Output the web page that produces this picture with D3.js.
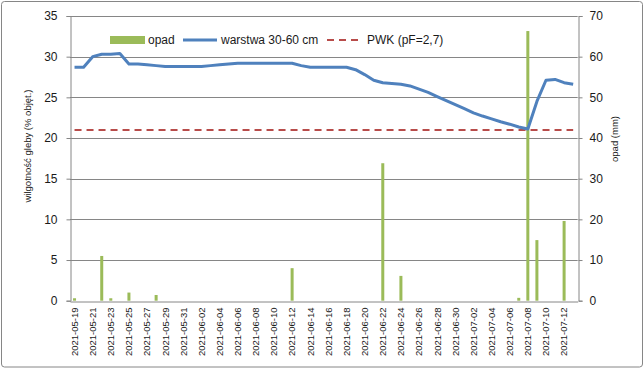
<!DOCTYPE html>
<html>
<head>
<meta charset="utf-8">
<script src="https://cdn.jsdelivr.net/npm/d3@7"></script>
<style>
  html, body { margin: 0; padding: 0; background: #fff; }
  svg { display: block; }
  text { font-family: "Liberation Sans", Arial, sans-serif; fill: #1a1a1a; }
</style>
</head>
<body>
<svg id="chart" width="644" height="369"></svg>
<script>
const dates = [
  "2021-05-19","2021-05-20","2021-05-21","2021-05-22","2021-05-23","2021-05-24","2021-05-25","2021-05-26",
  "2021-05-27","2021-05-28","2021-05-29","2021-05-30","2021-05-31","2021-06-01","2021-06-02","2021-06-03",
  "2021-06-04","2021-06-05","2021-06-06","2021-06-07","2021-06-08","2021-06-09","2021-06-10","2021-06-11",
  "2021-06-12","2021-06-13","2021-06-14","2021-06-15","2021-06-16","2021-06-17","2021-06-18","2021-06-19",
  "2021-06-20","2021-06-21","2021-06-22","2021-06-23","2021-06-24","2021-06-25","2021-06-26","2021-06-27",
  "2021-06-28","2021-06-29","2021-06-30","2021-07-01","2021-07-02","2021-07-03","2021-07-04","2021-07-05",
  "2021-07-06","2021-07-07","2021-07-08","2021-07-09","2021-07-10","2021-07-11","2021-07-12","2021-07-13"
];
// opad (mm) — right axis
const opad = [
  0.6, 0, 0, 11, 0.6, 0, 2, 0,
  0, 1.4, 0, 0, 0, 0, 0, 0,
  0, 0, 0, 0, 0, 0, 0, 0,
  8, 0, 0, 0, 0, 0, 0, 0,
  0, 0, 33.8, 0, 6.1, 0, 0, 0,
  0, 0, 0, 0, 0, 0, 0, 0,
  0, 0.7, 66.3, 14.9, 0, 0, 19.6, 0
];
// warstwa 30-60 cm (% obj.) — left axis
const warstwa = [
  28.7, 28.7, 30.0, 30.3, 30.3, 30.4, 29.1, 29.1,
  29.0, 28.9, 28.8, 28.8, 28.8, 28.8, 28.8, 28.9,
  29.0, 29.1, 29.2, 29.2, 29.2, 29.2, 29.2, 29.2,
  29.2, 28.9, 28.7, 28.7, 28.7, 28.7, 28.7, 28.4,
  27.8, 27.1, 26.8, 26.7, 26.6, 26.4, 26.0, 25.6,
  25.1, 24.6, 24.1, 23.6, 23.1, 22.7, 22.35, 22.0,
  21.7, 21.35, 21.1, 24.5, 27.1, 27.2, 26.8, 26.6
];
const pwkValue = 21;
const leftTicks = [0, 5, 10, 15, 20, 25, 30, 35];
const rightTicks = [0, 10, 20, 30, 40, 50, 60, 70];
const seriesNames = ["opad", "warstwa 30-60 cm", "PWK (pF=2,7)"];
const colors = { opad: "#9BBB59", line: "#4F81BD", pwk: "#B84C4A", grid: "#868686" };

const svg = d3.select("#chart");
const W = 644, H = 369;
const m = { left: 70, right: 577.7, top: 16, bottom: 300.7 };

// outer border
svg.append("rect").attr("x", 1.5).attr("y", 1.5).attr("width", W - 3).attr("height", H - 3.5)
  .attr("rx", 3).attr("fill", "#fff").attr("stroke", "#868686").attr("stroke-width", 1);

const x = d3.scaleBand().domain(dates).range([m.left, m.right]).padding(0);
const yL = d3.scaleLinear().domain([0, 35]).range([m.bottom, m.top]);
const yR = d3.scaleLinear().domain([0, 70]).range([m.bottom, m.top]);
const cx = d => x(d) + x.bandwidth() / 2;

// gridlines
svg.append("g").selectAll("line").data(leftTicks.filter(t => t > 0)).join("line")
  .attr("x1", m.left).attr("x2", m.right)
  .attr("y1", d => Math.round(yL(d)) + 0.5).attr("y2", d => Math.round(yL(d)) + 0.5)
  .attr("stroke", colors.grid).attr("stroke-width", 1);

// left axis
const axL = svg.append("g").attr("transform", `translate(${Math.round(m.left) + 0.5},0)`)
  .call(d3.axisLeft(yL).tickValues(leftTicks).tickSize(4).tickPadding(9));
axL.select(".domain").attr("stroke", colors.grid);
axL.selectAll(".tick line").attr("stroke", colors.grid);
axL.selectAll(".tick text").attr("font-size", 12).style("font-family", "Liberation Sans, Arial, sans-serif").attr("fill", "#1a1a1a");

// right axis
const axR = svg.append("g").attr("transform", `translate(${Math.round(m.right) + 0.5},0)`)
  .call(d3.axisRight(yR).tickValues(rightTicks).tickSize(4).tickPadding(7));
axR.select(".domain").attr("stroke", colors.grid);
axR.selectAll(".tick line").attr("stroke", colors.grid);
axR.selectAll(".tick text").attr("font-size", 12).style("font-family", "Liberation Sans, Arial, sans-serif").attr("fill", "#1a1a1a");

// bars
svg.append("g").selectAll("rect").data(dates.map((d, i) => ({ d, v: opad[i] })).filter(o => o.v > 0)).join("rect")
  .attr("x", o => cx(o.d) - 1.5).attr("width", 3)
  .attr("y", o => yR(o.v)).attr("height", o => yR(0) - yR(o.v))
  .attr("fill", colors.opad);

// bottom axis
const axB = svg.append("g").attr("transform", `translate(0,${Math.round(m.bottom) + 0.5})`)
  .call(d3.axisBottom(x).tickValues(dates.filter((d, i) => i % 2 === 0)).tickSize(0).tickPadding(0));
axB.select(".domain").attr("stroke", colors.grid);
axB.selectAll(".tick text")
  .attr("font-size", 9.5).style("font-family", "Liberation Sans, Arial, sans-serif").attr("fill", "#1a1a1a")
  .attr("transform", "rotate(-90)").attr("text-anchor", "end")
  .attr("x", -6).attr("y", 0).attr("dy", "0.35em");

// PWK dashed line
const lineL = d3.line().x((d, i) => cx(dates[i])).y(d => yL(d));
svg.append("path").datum(dates.map(() => pwkValue))
  .attr("d", lineL).attr("fill", "none").attr("stroke", colors.pwk)
  .attr("stroke-width", 2).attr("stroke-dasharray", "7,5");

// moisture line
svg.append("path").datum(warstwa)
  .attr("d", lineL).attr("fill", "none").attr("stroke", colors.line)
  .attr("stroke-width", 3).attr("stroke-linejoin", "round");

// axis titles
svg.append("text").attr("transform", "translate(31,146) rotate(-90)")
  .attr("text-anchor", "middle").attr("font-size", 9.5).text("wilgotność gleby (% objęt.)");
svg.append("text").attr("transform", "translate(618,139) rotate(-90)")
  .attr("text-anchor", "middle").attr("font-size", 9.5).text("opad (mm)");

// legend
const lg = svg.append("g");
const ly = 40;
lg.append("rect").attr("x", 110).attr("y", ly - 4).attr("width", 35).attr("height", 8).attr("fill", colors.opad);
lg.append("text").attr("x", 148).attr("y", ly).attr("dy", "0.35em").attr("font-size", 12).text(seriesNames[0]);
lg.append("line").attr("x1", 183).attr("x2", 217).attr("y1", ly).attr("y2", ly)
  .attr("stroke", colors.line).attr("stroke-width", 3);
lg.append("text").attr("x", 221).attr("y", ly).attr("dy", "0.35em").attr("font-size", 12).text(seriesNames[1]);
lg.append("line").attr("x1", 327).attr("x2", 363).attr("y1", ly).attr("y2", ly)
  .attr("stroke", colors.pwk).attr("stroke-width", 2).attr("stroke-dasharray", "7,5");
lg.append("text").attr("x", 367).attr("y", ly).attr("dy", "0.35em").attr("font-size", 12).text(seriesNames[2]);
</script>
</body>
</html>
